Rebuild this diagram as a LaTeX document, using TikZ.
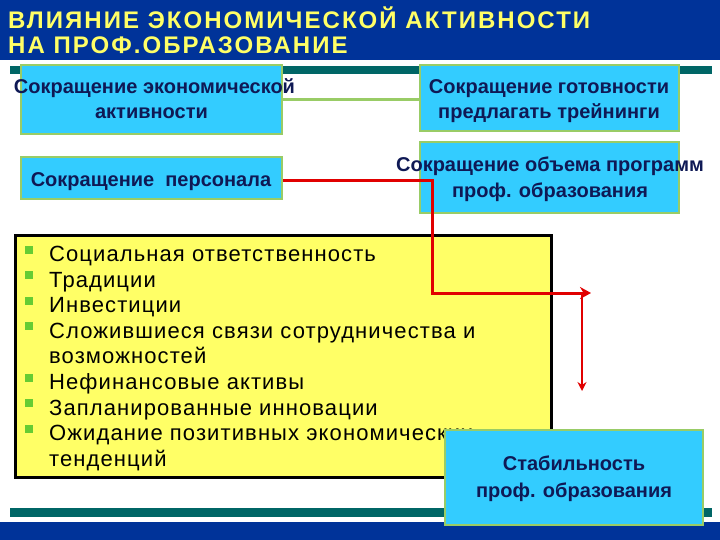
\documentclass[tikz,border=0pt]{standalone}
\usepackage{fontspec}
\setmainfont{Liberation Sans}
\newfontfamily\titlefont[LetterSpace=8.5]{Liberation Sans}
\newfontfamily\listfont[LetterSpace=5]{Liberation Sans}
\usetikzlibrary{arrows.meta}
\definecolor{hdrblue}{RGB}{0,51,153}
\definecolor{titleyellow}{RGB}{255,255,102}
\definecolor{tealline}{RGB}{0,102,102}
\definecolor{boxcyan}{RGB}{51,204,255}
\definecolor{boxgreen}{RGB}{153,204,102}
\definecolor{boxtext}{RGB}{15,25,85}
\definecolor{listyellow}{RGB}{255,255,102}
\definecolor{bulletgreen}{RGB}{102,204,51}
\definecolor{arrred}{RGB}{225,0,0}
\tikzset{
  cbox/.style={draw=boxgreen, line width=2.5pt, fill=boxcyan, inner sep=0pt},
  btext/.style={anchor=base, text=boxtext, font=\fontsize{20}{20}\selectfont\bfseries, inner sep=0pt},
  ttext/.style={anchor=base west, text=titleyellow, font=\fontsize{24}{24}\titlefont\bfseries, inner sep=0pt},
  ltext/.style={anchor=base west, text=black, font=\fontsize{22}{22}\listfont, inner sep=0pt},
  bull/.style={fill=bulletgreen, minimum size=8pt, inner sep=0pt},
  redline/.style={draw=arrred, line width=3pt},
}
\begin{document}
\begin{tikzpicture}[x=1pt,y=-1pt]
\useasboundingbox (0,0) rectangle (720,540);
% header
\fill[hdrblue] (0,0) rectangle (720,60);
\node[ttext] (t1) at (8,28.5) {ВЛИЯНИЕ ЭКОНОМИЧЕСКОЙ АКТИВНОСТИ};
\node[ttext] (t2) at (8,53.5) {НА ПРОФ.ОБРАЗОВАНИЕ};
\fill[tealline] (10,66) rectangle (712,74);
% footer
\fill[tealline] (10,508) rectangle (712,517);
\fill[hdrblue] (0,522) rectangle (720,540);
% boxes
\node[cbox, minimum width=261pt, minimum height=69pt] (b1) at (151.5,99.5) {};
\node[cbox, minimum width=259pt, minimum height=66pt] (b2) at (549.5,98) {};
\node[cbox, minimum width=261pt, minimum height=42pt] (b3) at (151.5,178) {};
\node[cbox, minimum width=259pt, minimum height=71pt] (b4) at (549.5,177.5) {};
\draw[boxgreen, line width=3pt] (b1.east) -- (b1.east -| b2.west);
\node[btext] (b1a) at (154.5,94) {Сокращение экономической};
\node[btext] (b1b) at (151.5,119) {активности};
\node[btext] (b2a) at (549,94) {Сокращение готовности};
\node[btext] (b2b) at (549,119) {предлагать трейнинги};
\node[btext] (b3a) at (151,186.5) {Сокращение\ \ персонала};
\node[btext] (b4a) at (550,171.5) {Сокращение объема программ};
\node[btext] (b4b) at (550,198) {проф. образования};
% yellow list
\node[draw=black, line width=3pt, fill=listyellow, minimum width=536pt, minimum height=242pt, inner sep=0pt] (ylist) at (283,356) {};
\node[ltext] (l1) at (49,261.5) {Социальная ответственность};
\node[ltext] (l2) at (49,287.1) {Традиции};
\node[ltext] (l3) at (49,312.7) {Инвестиции};
\node[ltext] (l4) at (49,338.3) {Сложившиеся связи сотрудничества и};
\node[ltext] (l5) at (49,363.9) {возможностей};
\node[ltext] (l6) at (49,389.5) {Нефинансовые активы};
\node[ltext] (l7) at (49,415.1) {Запланированные инновации};
\node[ltext] (l8) at (49,440.7) {Ожидание позитивных экономических};
\node[ltext] (l9) at (49,466.3) {тенденций};
\foreach \yy/\nm in {249.5/u1,275.1/u2,300.7/u3,326.3/u4,377.5/u6,403.1/u7,428.7/u8}
  \node[bull] (\nm) at (28.5,\yy) {};
% stability box
\node[cbox, minimum width=258pt, minimum height=95pt] (b5) at (574,477.5) {};
\node[btext] (b5a) at (574,470) {Стабильность};
\node[btext] (b5b) at (574,497) {проф. образования};
% red connectors
\coordinate (bend) at (432,293);
\coordinate (r1) at (591,293);
\coordinate (r2s) at (582,293);
\coordinate (r2e) at (582,391);
\draw[redline, -{Stealth[length=11pt,width=12pt]}] ([yshift=-3pt]b3.east) -| (bend) -- (r1);
\draw[draw=arrred, line width=2pt, -{Stealth[length=9pt,width=9pt]}] (r2s) -- (r2e);
\end{tikzpicture}
\end{document}
